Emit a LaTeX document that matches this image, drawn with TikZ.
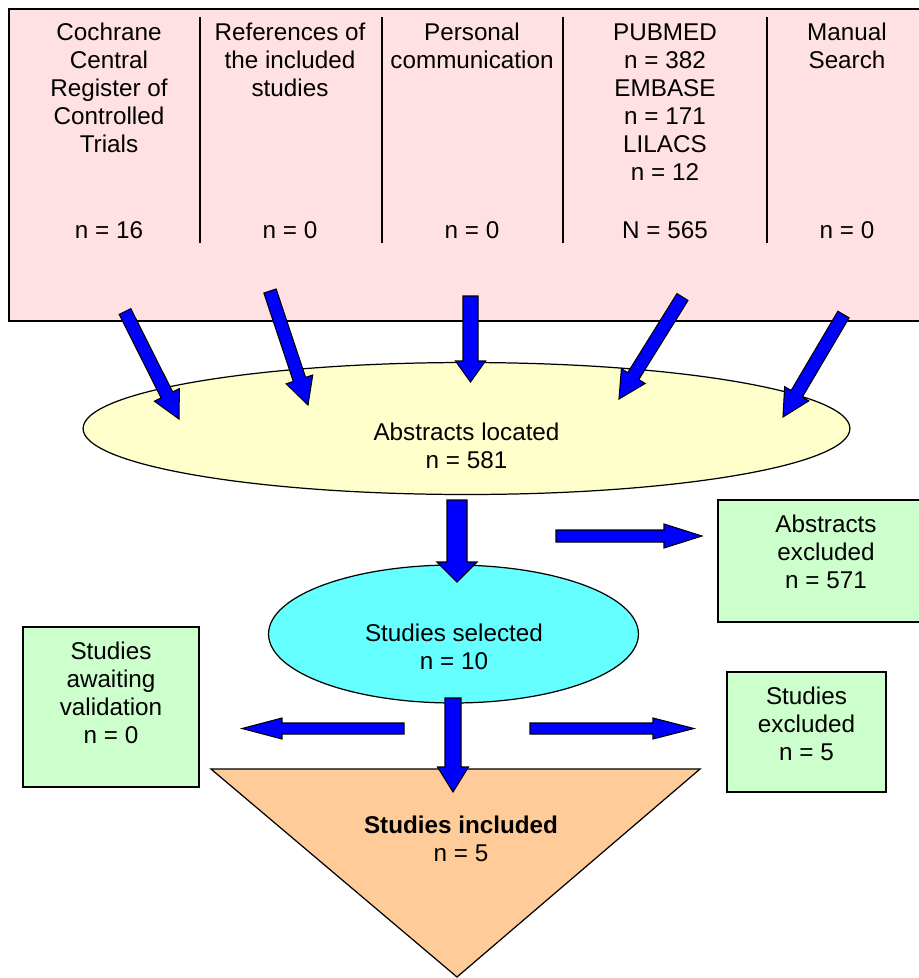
\documentclass[tikz,border=0pt]{standalone}
\usepackage{fontspec}
\setmainfont{Liberation Sans}
\usetikzlibrary{shapes.geometric,calc}

\definecolor{srcpink}{HTML}{FFE1E3}
\definecolor{locyellow}{HTML}{FFFFCC}
\definecolor{selcyan}{HTML}{66FFFF}
\definecolor{exgreen}{HTML}{CCFFCC}
\definecolor{incorange}{HTML}{FFCC99}

% block arrow: tail, tip, half shaft, half head, head length
\newcommand\blockarrow[5]{%
  \draw[blockarr] ($(#1)!#3!90:(#2)$)
    -- ($(#2)!#5!(#1)!#3!90:(#2)$)
    -- ($(#2)!#5!(#1)!#4!90:(#2)$)
    -- (#2)
    -- ($(#2)!#5!(#1)!#4!-90:(#2)$)
    -- ($(#2)!#5!(#1)!#3!-90:(#2)$)
    -- ($(#1)!#3!-90:(#2)$) -- cycle;}

\begin{document}
\begin{tikzpicture}[x=0.02cm, y=-0.02cm,
    font=\fontsize{13.8}{15.94}\selectfont,
    txt/.style={inner sep=0pt, align=center},
    srcbox/.style={draw, line width=0.8pt, fill=srcpink, inner sep=0pt},
    exbox/.style={draw, line width=0.8pt, fill=exgreen, inner sep=0pt},
    oval/.style={draw, ellipse, line width=0.7pt, inner sep=0pt},
    blockarr/.style={draw=black, fill=blue, line width=0.6pt, line join=miter}]
  \clip (0,0) rectangle (919,978);

  \node[srcbox, minimum width=18.5cm, minimum height=6.24cm] (sources) at (471.5,165) {};
  \foreach \xdiv in {200,382,563,767}
    \draw[line width=0.7pt] (\xdiv,17) -- (\xdiv,243);

  \node[txt, anchor=north] (cochrane) at (109,23) {Cochrane\\Central\\Register of\\Controlled\\Trials};
  \node[txt, anchor=north] (refs) at (290,23) {References of\\the included\\studies};
  \node[txt, anchor=north] (personal) at (472,23) {Personal\\communication};
  \node[txt, anchor=north] (databases) at (665,23) {PUBMED\\n = 382\\EMBASE\\n = 171\\LILACS\\n = 12};
  \node[txt, anchor=north] (manual) at (847,23) {Manual\\Search};

  \node[txt, anchor=base] (ncochrane) at (109,238.7) {n = 16};
  \node[txt, anchor=base] (nrefs) at (290,238.7) {n = 0};
  \node[txt, anchor=base] (npersonal) at (472,238.7) {n = 0};
  \node[txt, anchor=base] (ndatabases) at (665,238.7) {N = 565};
  \node[txt, anchor=base] (nmanual) at (847,238.7) {n = 0};

  \node[oval, fill=locyellow, minimum width=15.34cm, minimum height=2.64cm] (located) at (466.5,428.5) {};
  \node[txt, anchor=north] (locatedtxt) at (466.5,423) {Abstracts located\\n = 581};

  \node[exbox, minimum width=4.32cm, minimum height=2.44cm] (absexcl) at (826,561) {};
  \node[txt, anchor=north] (absexcltxt) at (826,515) {Abstracts\\excluded\\n = 571};

  \node[oval, fill=selcyan, minimum width=7.4cm, minimum height=2.76cm] (selected) at (453.5,634) {};
  \node[txt, anchor=north] (selectedtxt) at (454,624) {Studies selected\\n = 10};

  \node[exbox, minimum width=3.52cm, minimum height=3.2cm] (awaiting) at (111,707) {};
  \node[txt, anchor=north] (awaitingtxt) at (111,642) {Studies\\awaiting\\validation\\n = 0};

  \node[exbox, minimum width=3.18cm, minimum height=2.4cm] (studexcl) at (806.5,732) {};
  \node[txt, anchor=north] (studexcltxt) at (806.5,687) {Studies\\excluded\\n = 5};

  \draw[line width=0.7pt, fill=incorange] (211,769) -- (700,769) -- (457,977) -- cycle;
  \node[txt, anchor=north] (includedtxt) at (461,816) {\textbf{Studies included}\\n = 5};

  \coordinate (t1) at (125,311.5);  \coordinate (h1) at (179,419);
  \coordinate (t2) at (270,291);    \coordinate (h2) at (308,405);
  \coordinate (t3) at (470.5,296);  \coordinate (h3) at (470.5,382);
  \coordinate (t4) at (682.5,297);  \coordinate (h4) at (619,399);
  \coordinate (t5) at (843.5,314.5);\coordinate (h5) at (783,417);
  \coordinate (t6) at (457,500);    \coordinate (h6) at (457,582);
  \coordinate (t7) at (556,536);    \coordinate (h7) at (702,536);
  \coordinate (t8) at (453,698);    \coordinate (h8) at (453,792);
  \coordinate (t9) at (530,728.5);  \coordinate (h9) at (694,728.5);
  \coordinate (t10) at (404,728.5); \coordinate (h10) at (242,728.5);

  \foreach \i in {1,2,4,5}{
    \blockarrow{t\i}{h\i}{0.13cm}{0.28cm}{0.54cm}
  }
  \blockarrow{t3}{h3}{0.15cm}{0.30cm}{0.42cm}
  \blockarrow{t6}{h6}{0.20cm}{0.40cm}{0.40cm}
  \blockarrow{t7}{h7}{0.12cm}{0.24cm}{0.76cm}
  \blockarrow{t8}{h8}{0.16cm}{0.31cm}{0.50cm}
  \blockarrow{t9}{h9}{0.11cm}{0.21cm}{0.82cm}
  \blockarrow{t10}{h10}{0.11cm}{0.21cm}{0.80cm}
\end{tikzpicture}
\end{document}
